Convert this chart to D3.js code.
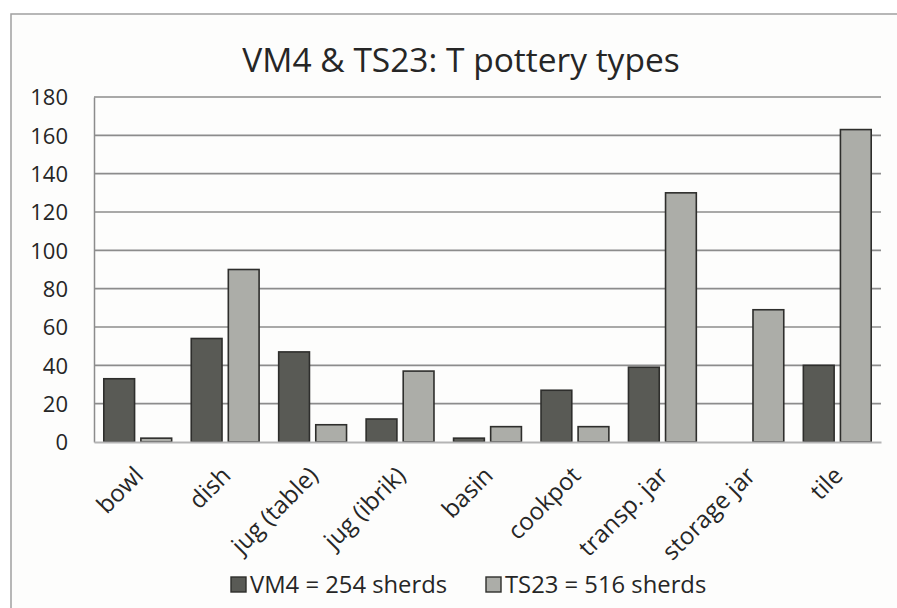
<!DOCTYPE html>
<html>
<head>
<meta charset="utf-8">
<script src="https://cdn.jsdelivr.net/npm/d3@7"></script>
<style>
  html, body { margin: 0; padding: 0; background: #ffffff; }
  svg { display: block; }
  text { font-family: "Open Sans", Lato, sans-serif; fill: #262626; }
</style>
</head>
<body>
<svg id="chart" width="897" height="608"></svg>
<script>
// Pottery sherd counts per vessel type
const categories = ["bowl", "dish", "jug (table)", "jug (ibrik)", "basin", "cookpot", "transp. jar", "storage jar", "tile"];
const vm4Values  = [33, 54, 47, 12, 2, 27, 39, 0, 40];
const ts23Values = [2, 90, 9, 37, 8, 8, 130, 69, 163];
const seriesNames = ["VM4 = 254 sherds", "TS23 = 516 sherds"];
const yTicks = [0, 20, 40, 60, 80, 100, 120, 140, 160, 180];

const colors = ["#595a55", "#acada8"];

const svg = d3.select("#chart");
const W = 897, H = 608;
const margin = { left: 94, right: 16, top: 97, bottom: 166 };

// Outer chart frame (runs past the right/bottom edges of the page)
svg.append("rect")
  .attr("x", 11).attr("y", 14)
  .attr("width", 900).attr("height", 620)
  .attr("fill", "#fdfdfc")
  .attr("stroke", "#a0a0a0")
  .attr("stroke-width", 1.5);

const x0 = d3.scaleBand()
  .domain(categories)
  .range([margin.left, W - margin.right])
  .paddingInner(0.224)
  .paddingOuter(0.112);

const x1 = d3.scaleBand()
  .domain([0, 1])
  .range([0, x0.bandwidth()])
  .paddingInner(0.17);

const y = d3.scaleLinear()
  .domain([0, 180])
  .range([H - margin.bottom, margin.top]);

// Horizontal gridlines
svg.append("g")
  .selectAll("line")
  .data(yTicks.filter(d => d > 0))
  .join("line")
  .attr("x1", margin.left).attr("x2", W - margin.right)
  .attr("y1", d => y(d)).attr("y2", d => y(d))
  .attr("stroke", "#8c8c8c")
  .attr("stroke-width", 1.6);

// Y axis
const yAxis = svg.append("g")
  .attr("transform", `translate(${margin.left},0)`)
  .call(d3.axisLeft(y).tickValues(yTicks).tickSize(0).tickPadding(26));
yAxis.select(".domain").attr("stroke", "#8c8c8c").attr("stroke-width", 1.5);
yAxis.selectAll("text")
  .style("font-size", "22px")
  .attr("fill", "#262626")
  .attr("dy", "0.36em");

// Bars
const groups = svg.append("g")
  .selectAll("g")
  .data(categories)
  .join("g")
  .attr("transform", d => `translate(${x0(d)},0)`);

groups.selectAll("rect")
  .data((d, i) => [vm4Values[i], ts23Values[i]].map((v, s) => ({ v, s })))
  .join("rect")
  .filter(d => d.v > 0)
  .attr("x", d => x1(d.s))
  .attr("width", x1.bandwidth())
  .attr("y", d => y(d.v))
  .attr("height", d => y(0) - y(d.v))
  .attr("fill", d => colors[d.s])
  .attr("stroke", "#2e2e2c")
  .attr("stroke-width", 1.6);

// X axis baseline
const xAxis = svg.append("g")
  .attr("transform", `translate(0,${y(0)})`)
  .call(d3.axisBottom(x0).tickSize(0).tickPadding(0));
xAxis.select(".domain").attr("stroke", "#b4b4b4").attr("stroke-width", 2);
xAxis.selectAll("text")
  .style("font-size", "24px")
  .attr("fill", "#262626")
  .attr("text-anchor", "end")
  .attr("dy", "0")
  .attr("transform", "translate(7,35) rotate(-45)");

// Title
svg.append("text")
  .attr("x", 461).attr("y", 72)
  .attr("text-anchor", "middle")
  .style("font-size", "33.5px")
  .text("VM4 & TS23: T pottery types");

// Legend
const legendX = [231, 486];
const legend = svg.append("g")
  .selectAll("g")
  .data(seriesNames)
  .join("g")
  .attr("transform", (d, i) => `translate(${legendX[i]},577)`);
legend.append("rect")
  .attr("width", 15).attr("height", 15)
  .attr("fill", (d, i) => colors[i])
  .attr("stroke", "#2e2e2c")
  .attr("stroke-width", 1.4);
legend.append("text")
  .attr("x", 19).attr("y", 15.5)
  .style("font-size", "23.8px")
  .text(d => d);
</script>
</body>
</html>
